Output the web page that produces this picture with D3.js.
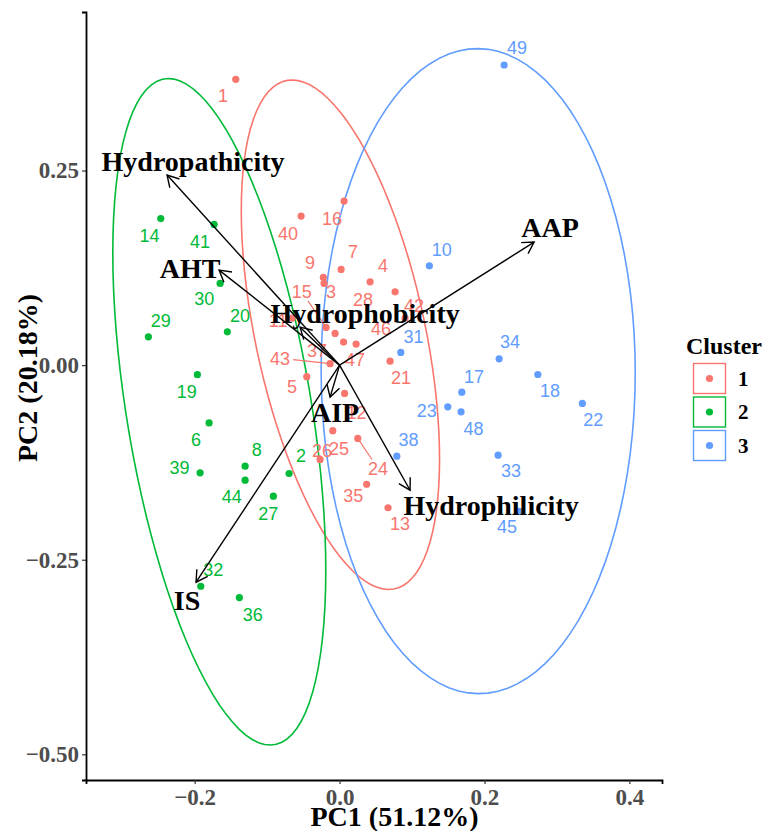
<!DOCTYPE html>
<html>
<head>
<meta charset="utf-8">
<script src="https://cdn.jsdelivr.net/npm/d3@7/dist/d3.min.js"></script>
<style>
  body { margin: 0; background: #fff; }
</style>
</head>
<body>
<div id="viz"></div>
<script>
// individuals: id, cluster, coordinates on PC1/PC2, and where the repelled label sits
const ids     = [1, 2, 3, 4, 5, 6, 7, 8, 9, 10, 11, 12, 13, 14, 15, 16, 17, 18, 19, 20, 21, 22, 23, 24, 25,
                 26, 27, 28, 29, 30, 31, 32, 33, 34, 35, 36, 37, 38, 39, 40, 41, 42, 43, 44, 45, 46, 47, 48, 49]
const cluster = [1, 2, 1, 1, 1, 2, 1, 2, 1, 3, 1, 1, 1, 2, 1, 1, 3, 3, 2, 2, 1, 3, 3, 1, 1,
                 1, 2, 1, 2, 2, 3, 2, 3, 3, 1, 2, 1, 3, 2, 1, 2, 1, 1, 2, 3, 1, 1, 3, 3]
const pc1 = [-0.1433, -0.0697, -0.0214, 0.0421, -0.0453, -0.1801, 0.0021, -0.1304, -0.0224, 0.1239,
             -0.0656, 0.0069, 0.0669, -0.2468, -0.0186, 0.0062, 0.1687, 0.2736, -0.1963, -0.1549,
             0.0697, 0.3351, 0.1493, 0.0251, -0.0094, -0.0269, -0.0914, 0.0766, -0.2639, -0.1649,
             0.0845, -0.1916, 0.2188, 0.2202, 0.0373, -0.1383, 0.0055, 0.0790, -0.1925, -0.0531,
             -0.1732, 0.0904, -0.0131, -0.1304, 0.2478, 0.0228, -0.0062, 0.1677, 0.2271]
const pc2 = [0.3672, -0.1392, 0.1050, 0.1071, -0.0148, -0.0742, 0.1230, -0.1298, 0.1127, 0.1276,
             0.0604, -0.0364, -0.1832, 0.1883, 0.0485, 0.2108, -0.0347, -0.0120, -0.0122, 0.0428,
             0.0051, -0.0492, -0.0536, -0.0942, -0.0842, -0.1212, -0.1684, 0.0942, 0.0364, 0.1050,
             0.0163, -0.2841, -0.1157, 0.0081, -0.1530, -0.2986, 0.0296, -0.1170, -0.1384, 0.1915,
             0.1808, 0.0604, 0.0019, -0.1478, -0.1877, 0.0270, 0.0407, -0.0600, 0.3856]
const labPc1 = [-0.1608, -0.0531, -0.0117, 0.0600, -0.0656, -0.1981, 0.0186, -0.1143, -0.0407, 0.1411,
                -0.0849, 0.0235, 0.0835, -0.2625, -0.0522, -0.0104, 0.1856, 0.2905, -0.2109, -0.1373,
                0.0849, 0.3503, 0.1204, 0.0531, -0.0007, -0.0242, -0.0983, 0.0324, -0.2468, -0.1866,
                0.1019, -0.1742, 0.2367, 0.2353, 0.0190, -0.1198, -0.0311, 0.0950, -0.2211, -0.0711,
                -0.1925, 0.1028, -0.0821, -0.1488, 0.2312, 0.0573, 0.0214, 0.1847, 0.2450]
const labPc2 = [0.3470, -0.1157, 0.0942, 0.1285, -0.0276, -0.0951, 0.1465, -0.1080, 0.1324, 0.1487,
                0.0578, -0.0604, -0.2035, 0.1671, 0.0942, 0.1889, -0.0141, -0.0321, -0.0343, 0.0643,
                -0.0154, -0.0694, -0.0587, -0.1328, -0.1067, -0.1093, -0.1902, 0.0848, 0.0569, 0.0857,
                0.0373, -0.2626, -0.1350, 0.0299, -0.1671, -0.3201, 0.0193, -0.0951, -0.1320, 0.1697,
                0.1594, 0.0771, 0.0090, -0.1684, -0.2069, 0.0469, 0.0071, -0.0814, 0.4087]

// variables (loadings arrows)
const varNames = ["Hydropathicity", "AHT", "Hydrophobicity", "AAP", "AIP", "Hydrophilicity", "IS"]
const varPc1   = [-0.2381, -0.1663, -0.0545, 0.2685, -0.0131, 0.0973, -0.1981]
const varPc2   = [0.2442, 0.1221, 0.0488, 0.1581, -0.0411, -0.1607, -0.2789]
const varLabPc1 = [-0.2022, -0.2063, 0.0352, 0.2905, -0.0062, 0.2091, -0.2105]
const varLabPc2 = [0.2609, 0.1234, 0.0656, 0.1761, -0.0617, -0.1812, -0.3021]

const clusters = [1, 2, 3]
const clusterColors = ["#F8766D", "#00BA38", "#619CFF"]

const xTicks = [-0.2, 0.0, 0.2, 0.4]
const xTickLabels = ["\u22120.2", "0.0", "0.2", "0.4"]
const yTicks = [-0.5, -0.25, 0.0, 0.25]
const yTickLabels = ["\u22120.50", "\u22120.25", "0.00", "0.25"]

const width = 764
const height = 831
const serif = "'Liberation Serif', 'Times New Roman', serif"
const sans = "'Liberation Sans', Arial, sans-serif"

const x = d3.scaleLinear().domain([-0.35, 0.445]).range([86, 662])
const y = d3.scaleLinear().domain([-0.533, 0.4537]).range([780, 12])
const color = d3.scaleOrdinal().domain(clusters).range(clusterColors)

const pts = ids.map((id, i) => ({
    id: id, cl: cluster[i], x: pc1[i], y: pc2[i], lx: labPc1[i], ly: labPc2[i]
}))

const svg = d3.select("#viz").append("svg")
    .attr("width", width)
    .attr("height", height)
    .style("font-family", serif)

// 95% normal confidence ellipse (same maths as stat_ellipse type = "norm")
function ellipsePath(group) {
    const n = group.length
    const mx = d3.mean(group, d => d.x)
    const my = d3.mean(group, d => d.y)
    let sxx = 0, syy = 0, sxy = 0
    group.forEach(d => {
        sxx += (d.x - mx) * (d.x - mx)
        syy += (d.y - my) * (d.y - my)
        sxy += (d.x - mx) * (d.y - my)
    })
    sxx /= n - 1; syy /= n - 1; sxy /= n - 1
    const a = Math.sqrt(sxx)
    const b = sxy / a
    const c = Math.sqrt(syy - b * b)
    const dfd = n - 1
    const qf = (dfd / 2) * (Math.pow(0.05, -2 / dfd) - 1)
    const r = Math.sqrt(2 * qf)
    const out = []
    for (let k = 0; k <= 100; k++) {
        const t = 2 * Math.PI * k / 100
        const u = Math.cos(t), v = Math.sin(t)
        out.push([x(mx + r * u * a), y(my + r * (u * b + v * c))])
    }
    return d3.line()(out)
}

svg.append("g").selectAll("path")
    .data(clusters)
    .enter().append("path")
    .attr("d", cl => ellipsePath(pts.filter(p => p.cl === cl)))
    .attr("fill", "none")
    .attr("stroke", cl => color(cl))
    .attr("stroke-width", 1.6)

// axes
const xAxis = svg.append("g")
    .attr("transform", "translate(0,780)")
    .call(d3.axisBottom(x).tickValues(xTicks).tickFormat((d, i) => xTickLabels[i]).tickSizeOuter(0).tickSize(4).tickPadding(5))
const yAxis = svg.append("g")
    .attr("transform", "translate(86,0)")
    .call(d3.axisLeft(y).tickValues(yTicks).tickFormat((d, i) => yTickLabels[i]).tickSizeOuter(0).tickSize(4).tickPadding(3))

;[xAxis, yAxis].forEach(g => {
    g.select(".domain").attr("stroke", "#000").attr("stroke-width", 1.8)
    g.selectAll(".tick line").attr("stroke", "#333").attr("stroke-width", 1.2)
    g.selectAll(".tick text")
        .style("font-family", serif)
        .style("font-weight", "bold")
        .style("font-size", "23px")
        .attr("fill", "#4D4D4D")
})

// points
svg.append("g").selectAll("circle")
    .data(pts)
    .enter().append("circle")
    .attr("cx", d => x(d.x))
    .attr("cy", d => y(d.y))
    .attr("r", 3.6)
    .attr("fill", d => color(d.cl))

// repel segments, only when a label drifted far from its point
const segs = []
pts.forEach(d => {
    const px = x(d.x), py = y(d.y), lx = x(d.lx), ly = y(d.ly)
    const dx = px - lx, dy = py - ly
    const dist = Math.hypot(dx, dy)
    if (dist > 34.5) {
        const hw = String(d.id).length * 5 + 3, hh = 9
        const t = Math.min(hw / Math.abs(dx || 1e-9), hh / Math.abs(dy || 1e-9))
        segs.push({ cl: d.cl, x1: lx + dx * t, y1: ly + dy * t, x2: px, y2: py })
    }
})
svg.append("g").selectAll("line")
    .data(segs)
    .enter().append("line")
    .attr("x1", d => d.x1).attr("y1", d => d.y1)
    .attr("x2", d => d.x2).attr("y2", d => d.y2)
    .attr("stroke", d => color(d.cl))
    .attr("stroke-width", 1.2)

// point labels
svg.append("g").selectAll("text")
    .data(pts)
    .enter().append("text")
    .attr("x", d => x(d.lx))
    .attr("y", d => y(d.ly))
    .attr("dy", "0.36em")
    .attr("text-anchor", "middle")
    .style("font-family", sans)
    .style("font-size", "18px")
    .attr("fill", d => color(d.cl))
    .text(d => d.id)

// variable arrows
const vars = varNames.map((name, i) => ({
    name: name, x: varPc1[i], y: varPc2[i], lx: varLabPc1[i], ly: varLabPc2[i]
}))
const ox = x(0), oy = y(0)
const arrows = svg.append("g")
    .attr("stroke", "#000")
    .attr("stroke-width", 1.4)
    .attr("fill", "none")
vars.forEach(v => {
    const tx = x(v.x), ty = y(v.y)
    const ang = Math.atan2(ty - oy, tx - ox)
    const len = 13, spread = Math.PI / 6
    const h1 = [tx - len * Math.cos(ang - spread), ty - len * Math.sin(ang - spread)]
    const h2 = [tx - len * Math.cos(ang + spread), ty - len * Math.sin(ang + spread)]
    arrows.append("line").attr("x1", ox).attr("y1", oy).attr("x2", tx).attr("y2", ty)
    arrows.append("path").attr("d", d3.line()([h1, [tx, ty], h2]))
})

svg.append("g").selectAll("text")
    .data(vars)
    .enter().append("text")
    .attr("x", d => x(d.lx))
    .attr("y", d => y(d.ly))
    .attr("dy", "0.33em")
    .attr("text-anchor", "middle")
    .style("font-weight", "bold")
    .style("font-size", "28px")
    .attr("fill", "#000")
    .text(d => d.name)

// axis titles
svg.append("text")
    .attr("x", 394.5).attr("y", 826)
    .attr("text-anchor", "middle")
    .style("font-weight", "bold").style("font-size", "28px")
    .text("PC1 (51.12%)")
svg.append("text")
    .attr("transform", "translate(37,378) rotate(-90)")
    .attr("text-anchor", "middle")
    .style("font-weight", "bold").style("font-size", "28px")
    .text("PC2 (20.18%)")

// legend
const legend = svg.append("g").attr("transform", "translate(686,0)")
legend.append("text")
    .attr("x", 0).attr("y", 354)
    .style("font-weight", "bold").style("font-size", "24px")
    .text("Cluster")
const keys = legend.selectAll("g.key")
    .data(clusters)
    .enter().append("g")
    .attr("class", "key")
    .attr("transform", (d, i) => "translate(7," + (363 + i * 33.5) + ")")
keys.append("rect")
    .attr("x", 0.5).attr("y", 0.5)
    .attr("width", 32).attr("height", 30)
    .attr("fill", "#fff")
    .attr("stroke", d => color(d))
    .attr("stroke-width", 1.4)
keys.append("circle")
    .attr("cx", 16.5).attr("cy", 15.5).attr("r", 3.6)
    .attr("fill", d => color(d))
keys.append("text")
    .attr("x", 45).attr("y", 15.5).attr("dy", "0.35em")
    .style("font-weight", "bold").style("font-size", "21px")
    .text(d => d)
</script>
</body>
</html>
